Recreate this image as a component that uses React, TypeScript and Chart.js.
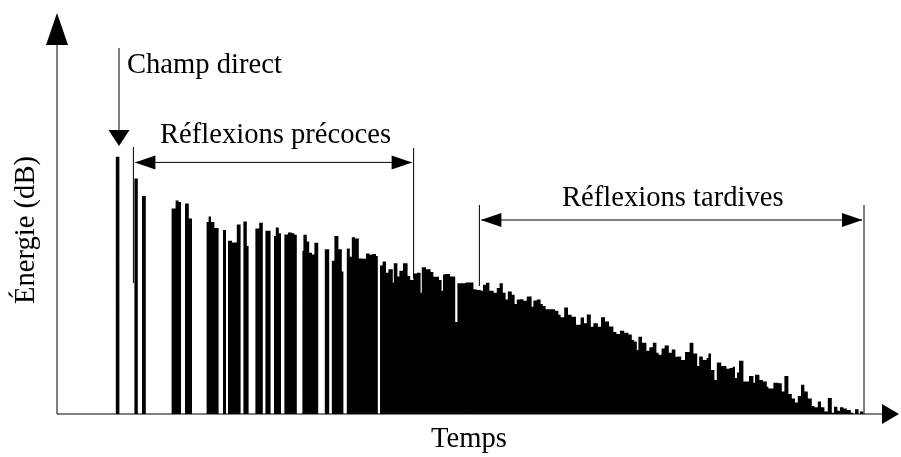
import React, { useEffect, useRef } from "react";
import { Chart, registerables } from "chart.js";

Chart.register(...registerables);

// Start time (ms) of each step of the echogram; the level holds until the next entry.
const stepTimes: number[] = [
  0, 29.4, 31.2, 38.7, 40.4, 42.5, 44.4, 57.3, 59.3, 60.8,
  62, 64, 65.9, 67.5, 74.8, 75.8, 77, 78.7, 80.8, 83,
  84.5, 85.5, 87.5, 89.9, 91.8, 93.2, 94.9, 95.8, 99.2, 101.1,
  102.9, 104.2, 106.8, 108.5, 109.4, 110.9, 112, 113.7, 115.5, 117.4,
  118.7, 119.9, 122.7, 123.2, 124.9, 126.1, 127.5, 128.7, 130.6, 133.9,
  136.1, 137.4, 138.7, 140.7, 142.4, 143.2, 144.9, 146.4, 147.4, 149,
  150.9, 152.9, 154.5, 156.3, 157.5, 159.5, 160.4, 161.5, 162.8, 164.5,
  165.7, 167.9, 168.4, 170.2, 171.2, 173, 175.3, 176.6, 178.2, 179.9,
  181.8, 182.4, 184.5, 186.8, 188.2, 191, 192.3, 193, 194, 196.5,
  199.1, 200.2, 204.3, 208.2, 209.8, 211.9, 213, 214.5, 216.2, 218.3,
  219.9, 221.3, 222.9, 224.3, 225.4, 227.4, 228.8, 229.9, 231.5, 233.2,
  234.9, 237.3, 238.2, 239.9, 241.8, 242.9, 244.3, 249, 250.7, 251.8,
  253.6, 255.5, 257.3, 259.5, 261.8, 263.5, 264.9, 266.9, 268.2, 270.4,
  272, 274, 276, 278.2, 279.7, 281.5, 283.6, 285.7, 287.4, 288.5,
  289.9, 290.7, 292.5, 294.7, 296.2, 297.9, 299.7, 300.8, 302.3, 303.8,
  305.9, 307.4, 309.2, 310.5, 312.1, 314, 316.3, 318.2, 320.1, 321.1,
  322.9, 324.8, 325.7, 327, 328.7, 329.9, 332.1, 334.7, 336.2, 337.8,
  339, 340, 341, 343.2, 346, 348.2, 349, 351.2, 352.9, 354.9,
  355.7, 358.2, 360.7, 362.4, 363.7, 365.7, 367.4, 369, 370.4, 372,
  373.7, 375.4, 377.4, 378.7, 380.4, 382, 383.7, 385.4, 387.4, 388.5,
  390.2, 391.5, 393.2, 394.9, 396.9, 398.2, 399, 400.8, 401.5, 403.2,
];

// Energy level (dB above floor) of each step.
const stepLevels: number[] = [
  0, 64.3, 0, 58.9, 0, 54.5, 0, 51.4, 53.4, 53.0,
  0, 52.6, 48.9, 0, 48.0, 49.4, 48.0, 46.5, 0, 46.0,
  0, 43.3, 42.9, 47.4, 0, 48.1, 42.0, 0, 46.4, 47.8,
  0, 45.8, 0, 44.5, 46.6, 45.2, 0, 44.9, 45.4, 45.2,
  44.8, 0, 40.8, 44.8, 43.1, 40.3, 39.9, 42.8, 0, 41.2,
  0, 38.3, 44.5, 41.2, 35.6, 0, 41.4, 39.3, 44.2, 43.9,
  38.9, 38.8, 40.1, 39.8, 40.0, 39.5, 0, 37.1, 38.1, 35.3,
  36.2, 32.8, 37.7, 34.4, 35.8, 37.7, 34.5, 33.5, 35.1, 35.3,
  30.3, 36.7, 36.2, 35.5, 34.3, 33.5, 30.8, 34.9, 35.0, 34.4,
  23.0, 32.7, 32.9, 31.2, 31.0, 30.8, 32.3, 32.8, 30.8, 30.3,
  31.5, 32.7, 30.3, 28.6, 30.6, 29.8, 27.5, 28.6, 28.7, 28.3,
  29.4, 26.8, 28.4, 28.6, 27.5, 27.0, 26.2, 25.8, 24.8, 24.2,
  26.6, 24.8, 24.3, 22.3, 24.1, 22.7, 24.9, 21.8, 22.7, 21.8,
  24.2, 23.1, 21.9, 20.5, 20.0, 20.8, 20.3, 19.9, 18.5, 18.1,
  16.0, 19.3, 17.8, 15.8, 16.7, 17.8, 15.3, 14.8, 16.4, 17.1,
  15.3, 16.1, 14.3, 14.4, 13.5, 15.5, 17.8, 15.1, 12.0, 14.4,
  13.5, 14.0, 15.1, 11.0, 8.5, 12.9, 12.0, 11.3, 11.5, 11.8,
  9.0, 10.4, 13.3, 8.1, 9.5, 7.8, 9.8, 8.5, 8.1, 6.8,
  6.4, 7.8, 7.7, 5.6, 9.5, 5.0, 3.9, 2.9, 4.5, 7.3,
  5.6, 3.9, 2.0, 1.7, 3.1, 1.7, 0.6, 4.0, 0.3, 1.8,
  0.8, 1.7, 1.4, 1.0, 0.3, 0, 1.2, 0, 0.6, 0,
];

const directTime = 31; // ms, "Champ direct" pointer
const earlySpan = [38.2, 178.3]; // ms
const lateSpan = [211.2, 403.5]; // ms

const labelDirect = "Champ direct";
const labelEarly = "Réflexions précoces";
const labelLate = "Réflexions tardives";
const labelX = "Temps";
const labelY = "Énergie (dB)";

const FONT = '28.6px "Liberation Serif", "Times New Roman", serif';

const decorPlugin = {
  id: "decor",
  afterDatasetsDraw(chart: any) {
    const { ctx, chartArea, scales } = chart;
    const X = (t: number) => scales.x.getPixelForValue(t);
    const Y = (v: number) => scales.y.getPixelForValue(v);
    const left = chartArea.left;
    const bottom = chartArea.bottom;
    const line = (x1: number, y1: number, x2: number, y2: number) => {
      ctx.beginPath();
      ctx.moveTo(x1, y1);
      ctx.lineTo(x2, y2);
      ctx.stroke();
    };
    const tri = (p: number[][]) => {
      ctx.beginPath();
      ctx.moveTo(p[0][0], p[0][1]);
      ctx.lineTo(p[1][0], p[1][1]);
      ctx.lineTo(p[2][0], p[2][1]);
      ctx.closePath();
      ctx.fill();
    };
    ctx.save();
    ctx.strokeStyle = "#000";
    ctx.fillStyle = "#000";
    ctx.lineWidth = 1;

    // axes with arrowheads
    line(left, bottom, left, 44);
    tri([[left - 11, 45], [left + 11, 45], [left, 13]]);
    line(left, bottom, 884, bottom);
    tri([[882, bottom - 10], [882, bottom + 10], [899, bottom]]);

    // direct sound pointer
    const dx = X(directTime);
    line(dx, Y(91.5), dx, Y(71));
    tri([[dx - 10.5, Y(71)], [dx + 10.5, Y(71)], [dx, Y(67)]]);

    // early reflections bracket
    const e0 = X(earlySpan[0]);
    const e1 = X(earlySpan[1]);
    const ey = Y(62.9);
    line(e0, Y(66.75), e0, Y(32.75));
    line(e1, Y(66.5), e1, Y(34));
    line(e0 + 2, ey, e1 - 2, ey);
    tri([[e0 + 1.5, ey], [e0 + 22, ey - 7], [e0 + 22, ey + 7]]);
    tri([[e1 - 1.5, ey], [e1 - 22, ey - 7], [e1 - 22, ey + 7]]);

    // late reflections bracket
    const l0 = X(lateSpan[0]);
    const l1 = X(lateSpan[1]);
    const ly = Y(48.5);
    line(l0, Y(52.25), l0, Y(32));
    line(l1, Y(52.25), l1, Y(0));
    line(l0 + 2, ly, l1 - 2, ly);
    tri([[l0 + 1.5, ly], [l0 + 22, ly - 7], [l0 + 22, ly + 7]]);
    tri([[l1 - 1.5, ly], [l1 - 22, ly - 7], [l1 - 22, ly + 7]]);

    // texts
    ctx.font = FONT;
    ctx.textBaseline = "alphabetic";
    ctx.textAlign = "left";
    ctx.fillText(labelDirect, dx + 8, Y(85.25));
    ctx.fillText(labelEarly, X(51.5), Y(67.75));
    ctx.fillText(labelLate, X(252.5), Y(52));
    ctx.textAlign = "center";
    ctx.fillText(labelX, X(206), 447);
    ctx.translate(26, Y(46));
    ctx.rotate(-Math.PI / 2);
    ctx.textBaseline = "middle";
    ctx.fillText(labelY, 0, 0);
    ctx.restore();
  },
};

export default function App() {
  const canvasRef = useRef<HTMLCanvasElement | null>(null);

  useEffect(() => {
    const canvas = canvasRef.current;
    if (!canvas) return;
    const points = stepTimes.map((t, i) => ({ x: t, y: stepLevels[i] }));
    const chart = new Chart(canvas, {
      type: "line",
      data: {
        datasets: [
          {
            data: points,
            stepped: "before",
            fill: "origin",
            backgroundColor: "#000",
            borderColor: "rgba(0,0,0,0)",
            borderWidth: 0,
            pointRadius: 0,
            tension: 0,
          },
        ],
      },
      options: {
        animation: false,
        responsive: false,
        events: [],
        layout: { padding: { left: 57, right: 21, top: 15, bottom: 43 } },
        scales: {
          x: { type: "linear", display: false, min: 0, max: 411.5 },
          y: { type: "linear", display: false, min: 0, max: 99.75 },
        },
        plugins: {
          legend: { display: false },
          tooltip: { enabled: false },
        },
      },
      plugins: [decorPlugin],
    } as any);
    return () => chart.destroy();
  }, []);

  return (
    <div style={{ position: "fixed", left: 0, top: 0, width: 901, height: 457, background: "#fff" }}>
      <canvas ref={canvasRef} width={901} height={457} style={{ display: "block" }} />
    </div>
  );
}
